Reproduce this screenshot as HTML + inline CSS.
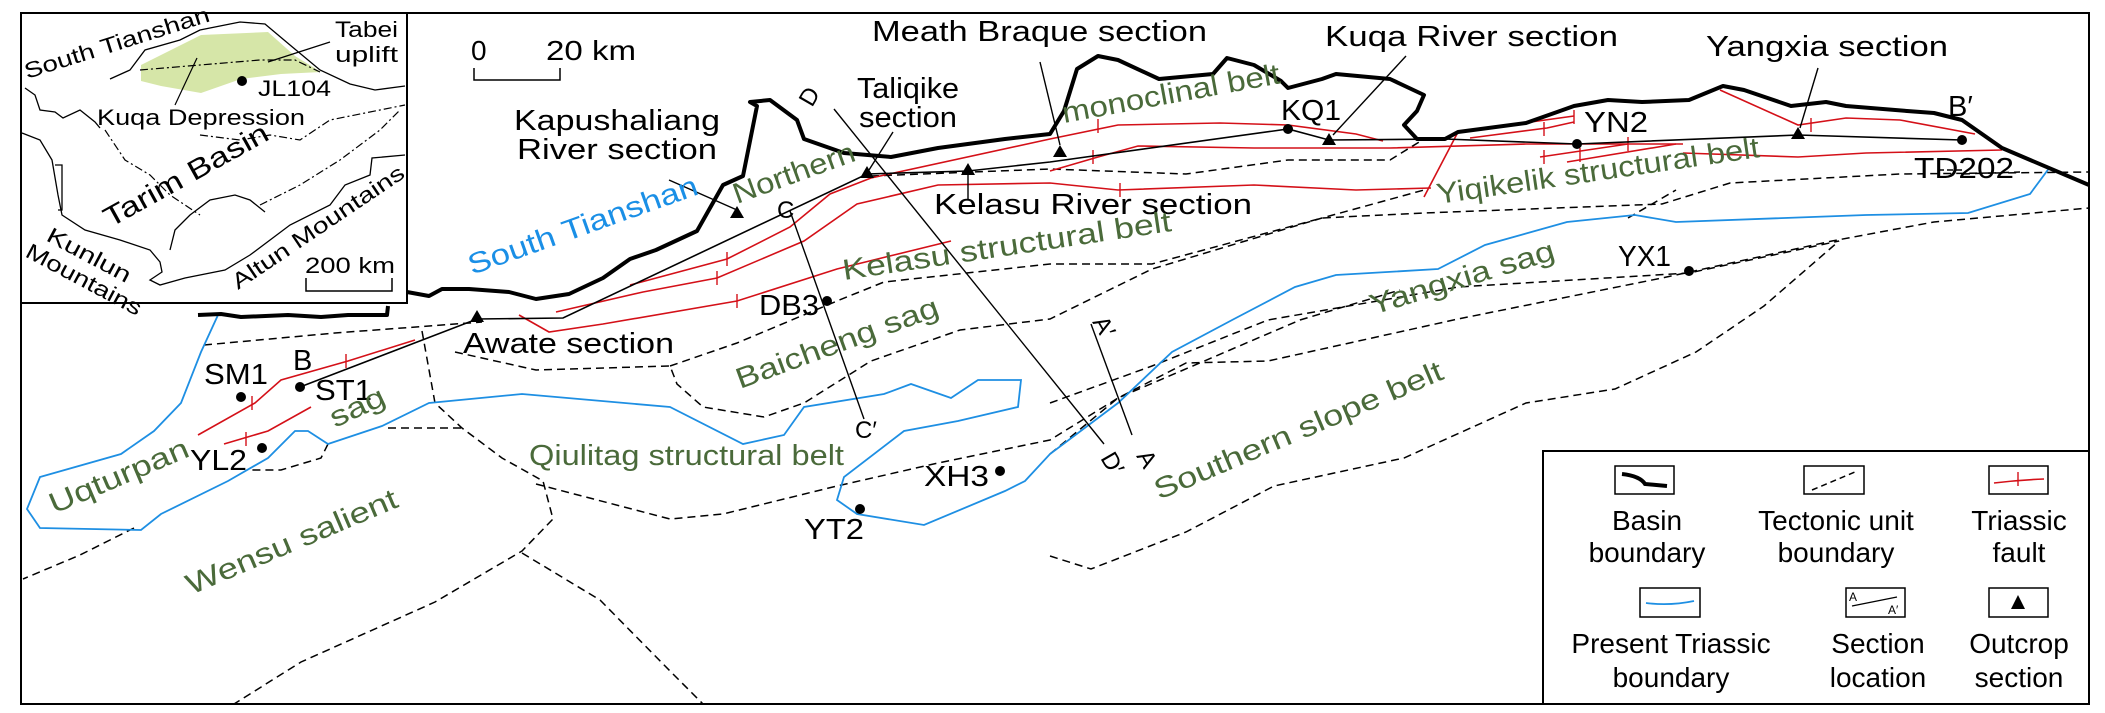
<!DOCTYPE html>
<html><head><meta charset="utf-8"><style>
html,body{margin:0;padding:0;background:#fff}
svg{display:block}
text{font-family:"Liberation Sans",Arial,sans-serif}
</style></head><body>
<svg width="2105" height="713" viewBox="0 0 2105 713" xmlns="http://www.w3.org/2000/svg">
<rect x="0" y="0" width="2105" height="713" fill="#fff"/>
<rect x="21" y="13" width="2068" height="691" fill="none" stroke="#000" stroke-width="2"/>

<!-- Inset -->
<polygon points="141,65 201,35 268,32 295,56 321,72 281,74 241,79 201,93 161,86 141,81" fill="#d6e6a8"/>
<g fill="none" stroke="#000" stroke-width="1.3">
<polyline points="110,79 130,70 145,50 180,40 200,30 240,22 265,24 290,45 320,70 350,84 375,90 405,86"/>
<polyline points="25,88 35,95 40,110 55,112 63,118 80,110 95,122 100,128"/>
<polyline points="22,133 40,140 52,160 58,195 62,215 85,230 120,240 150,250 160,262 162,272 150,280 160,285 185,278 225,270 250,255 290,225 330,205 345,185 370,175 372,158 405,155"/>
<polyline points="55,165 62,165 62,210 58,210"/>
<polyline points="170,250 175,230 190,215 210,200 235,195 250,200 265,212"/>
</g>
<g fill="none" stroke="#000" stroke-width="1.2" stroke-dasharray="8,3,2,3">
<polyline points="105,130 125,160 150,175 170,195 200,215"/>
<polyline points="200,135 240,140 270,135 300,140 330,120 380,110 405,105"/>
<polyline points="140,70 200,65 260,60 295,60 320,72"/>
<polyline points="260,205 300,185 340,160 380,130 400,110"/>
</g>
<line x1="175" y1="105" x2="197" y2="58" stroke="#000" stroke-width="1.2"/>
<line x1="268" y1="62" x2="330" y2="42" stroke="#000" stroke-width="1.2"/>
<circle cx="242" cy="81" r="5" fill="#000"/>
<rect x="21" y="13" width="386" height="290" fill="none" stroke="#000" stroke-width="2"/>
<g font-size="22" fill="#000">
<text transform="translate(27,79) rotate(-17.5)" textLength="193" lengthAdjust="spacingAndGlyphs">South Tianshan</text>
<text x="335" y="37" textLength="63" lengthAdjust="spacingAndGlyphs">Tabei</text>
<text x="335" y="62" textLength="63" lengthAdjust="spacingAndGlyphs">uplift</text>
<text x="258" y="96" textLength="73" lengthAdjust="spacingAndGlyphs">JL104</text>
<text x="97" y="125" textLength="208" lengthAdjust="spacingAndGlyphs">Kuqa Depression</text>
<text transform="translate(110,228) rotate(-29)" font-size="28" textLength="184" lengthAdjust="spacingAndGlyphs">Tarim Basin</text>
<text transform="translate(45,240) rotate(28)" textLength="92" lengthAdjust="spacingAndGlyphs">Kunlun</text>
<text transform="translate(24,256) rotate(28)" textLength="128" lengthAdjust="spacingAndGlyphs">Mountains</text>
<text transform="translate(238,290) rotate(-34)" textLength="203" lengthAdjust="spacingAndGlyphs">Altun Mountains</text>
<text x="305" y="273" textLength="90" lengthAdjust="spacingAndGlyphs">200 km</text>
</g>
<polyline points="306,278 306,291 392,291 392,278" fill="none" stroke="#000" stroke-width="1.5"/>

<!-- scale -->
<polyline points="474,68 474,80 560,80 560,68" fill="none" stroke="#000" stroke-width="1.5"/>
<text x="471" y="60" font-size="28">0</text>
<text x="546" y="60" font-size="28" textLength="90" lengthAdjust="spacingAndGlyphs">20 km</text>

<!-- dashed tectonic boundaries -->
<g fill="none" stroke="#000" stroke-width="1.5" stroke-dasharray="8,5">
<polyline points="204,345 335,333 429,326 482,322"/>
<polyline points="871,176 1050,169 1186,174 1288,160 1390,160 1424,139"/>
<polyline points="422,331 435,403 462,428 502,458 543,481 553,519 522,551 435,602 301,662 234,704"/>
<polyline points="388,428 462,428"/>
<polyline points="328,444 321,458 281,470 251,470"/>
<polyline points="134,528 80,555 23,579"/>
<polyline points="455,352 536,370 670,366 677,384 703,407 764,417 804,403 871,361 960,330 1050,319 1152,269 1322,218 1424,190"/>
<polyline points="670,366 737,343 837,301 884,282 1050,264 1152,264 1322,218 1424,213 1662,204 1730,183 1900,174 2089,172"/>
<polyline points="536,484 670,519 723,514 837,486 938,463 1050,440 1118,398 1186,363 1268,361 1458,319 1662,278 1832,241 1934,222 2089,208"/>
<polyline points="522,553 600,600 670,671 703,704"/>
<polyline points="1050,556 1091,569 1186,532 1274,486 1404,458 1526,403 1615,389 1696,352 1764,306 1839,241"/>
<polyline points="1050,403 1152,366 1268,320 1458,287 1689,273 1839,241"/>
<polyline points="1050,454 1118,398 1230,350 1300,320 1400,290"/>
<polyline points="1628,218 1676,190"/>
<polyline points="1962,174 2020,172"/>
</g>

<!-- blue Triassic boundary -->
<g fill="none" stroke="#1e8fe3" stroke-width="1.8">
<polyline points="218,315 201,352 181,403 154,431 121,454 40,477 27,509 40,528 141,530 161,514 228,481 268,458 295,431 308,431 328,444 382,426 429,403 522,394 670,407 743,444 784,435 804,407 884,394 911,384 951,398 978,380 1021,380 1018,407 958,421 904,431 844,477 837,500 857,514 924,525 1005,491 1025,481 1050,454 1118,403 1172,352 1234,319 1295,287 1336,275 1438,269 1485,245 1567,222 1635,215 1676,222 1866,215 1968,213 2030,194 2050,167"/>
</g>

<!-- red faults -->
<g fill="none" stroke="#d41018" stroke-width="1.6">
<polyline points="519,315 549,332 603,324 737,301 837,269 951,241"/>
<polyline points="556,312 643,292 717,278 804,241 857,204 938,185 1050,183 1118,190 1254,185 1356,190 1431,188"/>
<polyline points="630,285 727,259 790,227 830,194 871,178 1050,139 1118,125 1220,123 1288,125 1356,134 1383,141"/>
<polyline points="1050,171 1098,157 1138,146 1254,148 1390,148 1526,144 1683,144"/>
<polyline points="1424,197 1458,132"/>
<polyline points="1458,132 1574,116"/>
<polyline points="1470,138 1547,128 1574,122"/>
<polyline points="1540,157 1628,144"/>
<polyline points="1567,162 1676,144"/>
<polyline points="1683,153 1798,157 1866,153 2002,150"/>
<polyline points="1720,90 1798,125 1846,118 1900,120 1975,134"/>
<polyline points="198,435 255,403 281,380 348,361 415,340"/>
<polyline points="224,444 268,431 311,407"/>
</g>
<g stroke="#d41018" stroke-width="1.4">
<line x1="727" y1="252" x2="727" y2="266"/><line x1="717" y1="271" x2="717" y2="285"/><line x1="737" y1="294" x2="737" y2="308"/>
<line x1="1098" y1="119" x2="1098" y2="133"/><line x1="1093" y1="150" x2="1093" y2="164"/><line x1="1120" y1="183" x2="1120" y2="197"/>
<line x1="346" y1="354" x2="346" y2="368"/><line x1="252" y1="396" x2="252" y2="410"/><line x1="246" y1="432" x2="246" y2="446"/>
<line x1="1544" y1="122" x2="1544" y2="136"/><line x1="1574" y1="110" x2="1574" y2="124"/><line x1="1544" y1="150" x2="1544" y2="164"/><line x1="1580" y1="148" x2="1580" y2="162"/><line x1="1628" y1="137" x2="1628" y2="151"/><line x1="1811" y1="118" x2="1811" y2="132"/>
</g>

<!-- basin boundary -->
<polyline fill="none" stroke="#000" stroke-width="4" stroke-linejoin="round" points="198,315 221,314 241,317 288,315 321,317 348,315 387,315 388,306"/>
<polyline fill="none" stroke="#000" stroke-width="4" stroke-linejoin="round" points="407,292 429,296 442,289 469,289 509,292 536,299 569,294 603,278 630,259 656,250 697,231 710,208 723,185 743,176 757,106 750,102 770,100 797,120 804,139 844,153 891,157 938,148 1005,139 1050,134 1064,111 1077,69 1098,56 1118,60 1159,79 1213,74 1227,58 1254,65 1281,81 1288,88 1322,79 1336,74 1390,79 1424,95 1417,111 1404,125 1417,139 1445,139 1458,132 1526,123 1560,111 1574,106 1608,100 1642,102 1689,100 1723,86 1744,90 1791,106 1826,102 1846,106 1907,111 1934,113 1962,120 2002,148 2089,185"/>

<!-- section line B-B' -->
<polyline fill="none" stroke="#000" stroke-width="1.6" points="300,387 477,319 563,318 867,174 968,171 1050,162 1288,129 1329,140 1445,139 1577,144 1798,135 1962,140"/>
<!-- C, D, A lines -->
<g stroke="#000" stroke-width="1.4">
<line x1="790" y1="211" x2="864" y2="419"/>
<line x1="834" y1="109" x2="1104" y2="444"/>
<line x1="1091" y1="324" x2="1132" y2="435"/>
<line x1="1040" y1="62" x2="1060" y2="145"/>
<line x1="1406" y1="56" x2="1333" y2="135"/>
<line x1="1818" y1="68" x2="1800" y2="128"/>
<line x1="669" y1="180" x2="737" y2="210"/>
<line x1="893" y1="132" x2="869" y2="170"/>
<line x1="968" y1="175" x2="968" y2="200"/>
<line x1="1938" y1="170" x2="1965" y2="170" stroke-dasharray="6,3"/>
</g>

<!-- triangles -->
<g fill="#000">
<polygon points="477,310 470,322 484,322"/>
<polygon points="737,206 730,218 744,218"/>
<polygon points="867,166 860,178 874,178"/>
<polygon points="968,163 961,175 975,175"/>
<polygon points="1060,145 1053,157 1067,157"/>
<polygon points="1329,133 1322,145 1336,145"/>
<polygon points="1798,127 1791,139 1805,139"/>
<circle cx="241" cy="397" r="5"/><circle cx="300" cy="387" r="5"/><circle cx="262" cy="448" r="5"/>
<circle cx="827" cy="301" r="5"/><circle cx="1000" cy="471" r="5"/><circle cx="860" cy="509" r="5"/>
<circle cx="1288" cy="129" r="5"/><circle cx="1577" cy="144" r="5"/><circle cx="1962" cy="140" r="5"/><circle cx="1689" cy="271" r="5"/>
</g>

<!-- black labels -->
<g font-size="29" fill="#000">
<text x="872" y="41" textLength="335" lengthAdjust="spacingAndGlyphs">Meath Braque section</text>
<text x="1325" y="46" textLength="293" lengthAdjust="spacingAndGlyphs">Kuqa River section</text>
<text x="1706" y="56" textLength="242" lengthAdjust="spacingAndGlyphs">Yangxia section</text>
<text x="857" y="98" textLength="102" lengthAdjust="spacingAndGlyphs">Taliqike</text>
<text x="859" y="127" textLength="98" lengthAdjust="spacingAndGlyphs">section</text>
<text x="514" y="130" textLength="206" lengthAdjust="spacingAndGlyphs">Kapushaliang</text>
<text x="517" y="159" textLength="200" lengthAdjust="spacingAndGlyphs">River section</text>
<text x="934" y="214" textLength="318" lengthAdjust="spacingAndGlyphs">Kelasu River section</text>
<text x="463" y="353" textLength="211" lengthAdjust="spacingAndGlyphs">Awate section</text>
<text x="204" y="384" textLength="64" lengthAdjust="spacingAndGlyphs">SM1</text>
<text x="293" y="370">B</text>
<text x="315" y="400" textLength="57" lengthAdjust="spacingAndGlyphs">ST1</text>
<text x="190" y="470" textLength="57" lengthAdjust="spacingAndGlyphs">YL2</text>
<text x="759" y="315" textLength="60" lengthAdjust="spacingAndGlyphs">DB3</text>
<text x="924" y="486" textLength="65" lengthAdjust="spacingAndGlyphs">XH3</text>
<text x="804" y="539" textLength="60" lengthAdjust="spacingAndGlyphs">YT2</text>
<text x="1281" y="120" textLength="60" lengthAdjust="spacingAndGlyphs">KQ1</text>
<text x="1584" y="132" textLength="64" lengthAdjust="spacingAndGlyphs">YN2</text>
<text x="1948" y="116">B′</text>
<text x="1914" y="178" textLength="100" lengthAdjust="spacingAndGlyphs">TD202</text>
<text x="1618" y="266" textLength="53" lengthAdjust="spacingAndGlyphs">YX1</text>
<text x="777" y="218" font-size="24">C</text>
<text x="855" y="438" font-size="24">C′</text>
<text transform="translate(812,108) rotate(-60)" font-size="24">D</text>
<text transform="translate(1092,322) rotate(60)" font-size="24">A′</text>
<text transform="translate(1100,458) rotate(60)" font-size="24">D′</text>
<text transform="translate(1136,456) rotate(60)" font-size="24">A</text>
</g>

<!-- green labels -->
<g font-size="29" fill="#4a6a3a">
<text transform="translate(737,204) rotate(-20)" textLength="128" lengthAdjust="spacingAndGlyphs">Northern</text>
<text transform="translate(1064,123) rotate(-10.4)" textLength="221" lengthAdjust="spacingAndGlyphs">monoclinal belt</text>
<text transform="translate(844,280) rotate(-8.5)" textLength="332" lengthAdjust="spacingAndGlyphs">Kelasu structural belt</text>
<text transform="translate(1438,204) rotate(-8.3)" textLength="326" lengthAdjust="spacingAndGlyphs">Yiqikelik structural belt</text>
<text transform="translate(740,389) rotate(-20.2)" textLength="214" lengthAdjust="spacingAndGlyphs">Baicheng sag</text>
<text transform="translate(1373,315) rotate(-17)" textLength="192" lengthAdjust="spacingAndGlyphs">Yangxia sag</text>
<text transform="translate(1159,500) rotate(-23)" textLength="311" lengthAdjust="spacingAndGlyphs">Southern slope belt</text>
<text x="529" y="465" textLength="315" lengthAdjust="spacingAndGlyphs">Qiulitag structural belt</text>
<text transform="translate(54,514) rotate(-23)" textLength="149" lengthAdjust="spacingAndGlyphs">Uqturpan</text>
<text transform="translate(335,428) rotate(-25)" textLength="58" lengthAdjust="spacingAndGlyphs">sag</text>
<text transform="translate(191,595) rotate(-23)" textLength="227" lengthAdjust="spacingAndGlyphs">Wensu salient</text>
</g>
<text transform="translate(472,275) rotate(-19.6)" font-size="29" fill="#1a8fe6" textLength="242" lengthAdjust="spacingAndGlyphs">South Tianshan</text>

<!-- legend -->
<rect x="1543" y="451" width="546" height="253" fill="#fff" stroke="#000" stroke-width="2"/>
<g fill="none" stroke="#000" stroke-width="1.5">
<rect x="1615" y="466" width="59" height="28"/>
<rect x="1804" y="466" width="60" height="28"/>
<rect x="1989" y="466" width="59" height="28"/>
<rect x="1640" y="588" width="60" height="29"/>
<rect x="1846" y="588" width="59" height="29"/>
<rect x="1989" y="588" width="59" height="29"/>
</g>
<path d="M1622,474 Q1640,476 1645,484 L1667,486" fill="none" stroke="#000" stroke-width="4"/>
<polyline points="1812,490 1855,472" fill="none" stroke="#000" stroke-width="1.5" stroke-dasharray="6,4"/>
<path d="M1994,483 Q2018,480 2044,479" fill="none" stroke="#d41018" stroke-width="1.6"/>
<line x1="2018" y1="472" x2="2018" y2="486" stroke="#d41018" stroke-width="1.4"/>
<path d="M1646,603 Q1670,606 1694,601" fill="none" stroke="#1e8fe3" stroke-width="1.8"/>
<line x1="1852" y1="606" x2="1897" y2="597" stroke="#000" stroke-width="1.4"/>
<text x="1849" y="601" font-size="12">A</text><text x="1888" y="614" font-size="12">A′</text>
<polygon points="2018,595 2011,609 2025,609" fill="#000"/>
<g font-size="28" fill="#000" text-anchor="middle">
<text x="1647" y="530">Basin</text>
<text x="1647" y="562">boundary</text>
<text x="1836" y="530">Tectonic unit</text>
<text x="1836" y="562">boundary</text>
<text x="2019" y="530">Triassic</text>
<text x="2019" y="562">fault</text>
<text x="1671" y="653">Present Triassic</text>
<text x="1671" y="687">boundary</text>
<text x="1878" y="653">Section</text>
<text x="1878" y="687">location</text>
<text x="2019" y="653">Outcrop</text>
<text x="2019" y="687">section</text>
</g>
</svg>
</body></html>
